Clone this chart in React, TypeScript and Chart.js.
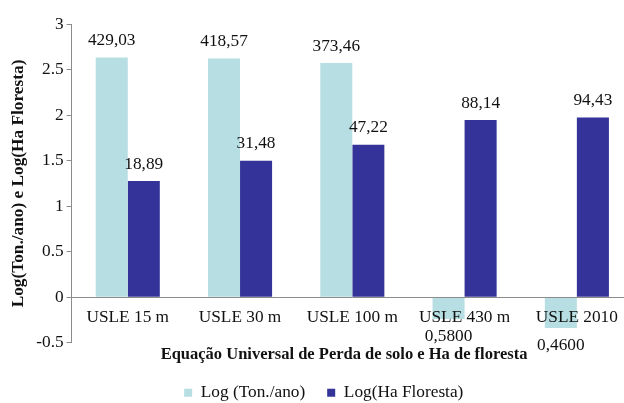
import React, { useEffect, useRef } from "react";
import { Chart, registerables } from "chart.js";

Chart.register(...registerables);

const categories = ["USLE 15 m", "USLE 30 m", "USLE 100 m", "USLE 430 m", "USLE 2010"];
const tonAnoRaw = [429.03, 418.57, 373.46, 0.58, 0.46];
const haFlorestaRaw = [18.89, 31.48, 47.22, 88.14, 94.43];
const tonAnoLabels = ["429,03", "418,57", "373,46", "0,5800", "0,4600"];
const haFlorestaLabels = ["18,89", "31,48", "47,22", "88,14", "94,43"];
const seriesNames = ["Log (Ton./ano)", "Log(Ha Floresta)"];
const yTicks = [-0.5, 0, 0.5, 1, 1.5, 2, 2.5, 3];

const FONT = "'Liberation Serif', 'Times New Roman', serif";
const FS = 17.3;

const dataLabelPlugin = {
  id: "dataLabels",
  afterDatasetsDraw(chart: any) {
    const ctx = chart.ctx;
    const labelSets = [tonAnoLabels, haFlorestaLabels];
    ctx.save();
    ctx.font = `${FS}px ${FONT}`;
    ctx.fillStyle = "#111";
    ctx.textAlign = "center";
    ctx.textBaseline = "middle";
    chart.data.datasets.forEach((ds: any, di: number) => {
      const meta = chart.getDatasetMeta(di);
      meta.data.forEach((el: any, i: number) => {
        const v = ds.data[i];
        const text = labelSets[di][i];
        const y = v >= 0 ? el.y - 17 : el.y + 17.5;
        ctx.fillText(text, el.x, y);
      });
    });
    ctx.restore();
  },
};

const legendShiftPlugin = {
  id: "legendShift",
  afterLayout(chart: any) {
    const lg = chart.legend;
    if (lg) {
      lg.left += 3;
      lg.right += 3;
    }
  },
};

export default function App() {
  const ref = useRef<HTMLCanvasElement>(null);
  useEffect(() => {
    if (!ref.current) return;
    const chart = new Chart(ref.current, {
      type: "bar",
      data: {
        labels: categories,
        datasets: [
          {
            label: seriesNames[0],
            data: tonAnoRaw.map((v) => Math.log10(v)),
            backgroundColor: "#B7DEE2",
            xAxisID: "x",
          },
          {
            label: seriesNames[1],
            data: haFlorestaRaw.map((v) => Math.log10(v)),
            backgroundColor: "#333399",
            xAxisID: "x",
          },
        ],
      },
      options: {
        animation: false,
        responsive: false,
        devicePixelRatio: 1,
        layout: { padding: { left: 8.5, top: 24, right: 7, bottom: 4.5 } },
        datasets: { bar: { barPercentage: 1, categoryPercentage: 0.571 } },
        scales: {
          x: {
            type: "category",
            position: { y: 0 } as any,
            grid: { display: false, drawTicks: false },
            border: { display: true, color: "#8c8c8c", width: 1, z: 1 },
            ticks: { font: { family: FONT, size: FS }, color: "#111", padding: 10, maxRotation: 0, autoSkip: false, z: 1 },
          },
          x2: {
            type: "category",
            position: "bottom",
            labels: categories,
            grid: { display: false, drawTicks: false },
            border: { display: false },
            ticks: { display: false },
            title: {
              display: true,
              text: "Equação Universal de Perda de solo e Ha de floresta    ",
              font: { family: FONT, size: 16.5, weight: "bold" },
              color: "#111",
              padding: { top: 2, bottom: -2.5 },
            },
          },
          y: {
            min: -0.5,
            max: 3,
            afterBuildTicks: (axis: any) => {
              axis.ticks = yTicks.map((v) => ({ value: v }));
            },
            grid: { display: true, drawOnChartArea: false, drawTicks: true, tickLength: 5, color: "#8c8c8c" },
            border: { display: true, color: "#8c8c8c" },
            ticks: {
              font: { family: FONT, size: FS },
              color: "#111",
              padding: 3,
              callback: (v: any) => String(v),
            },
            title: {
              display: true,
              text: "Log(Ton./ano) e Log(Ha Floresta)",
              font: { family: FONT, size: FS, weight: "bold" },
              color: "#111",
              padding: { top: 0, bottom: 4 },
            },
          },
        },
        plugins: {
          legend: {
            position: "bottom",
            labels: {
              boxWidth: 8,
              boxHeight: 8,
              padding: 22,
              color: "#111",
              font: { family: FONT, size: FS },
            },
          },
          tooltip: { enabled: false },
        },
      },
      plugins: [dataLabelPlugin, legendShiftPlugin],
    } as any);
    return () => chart.destroy();
  }, []);
  return (
    <div style={{ position: "fixed", left: 0, top: 0, width: 624, height: 403, overflow: "hidden", background: "#fff" }}>
      <canvas ref={ref} width={640} height={416} style={{ display: "block" }} />
    </div>
  );
}
